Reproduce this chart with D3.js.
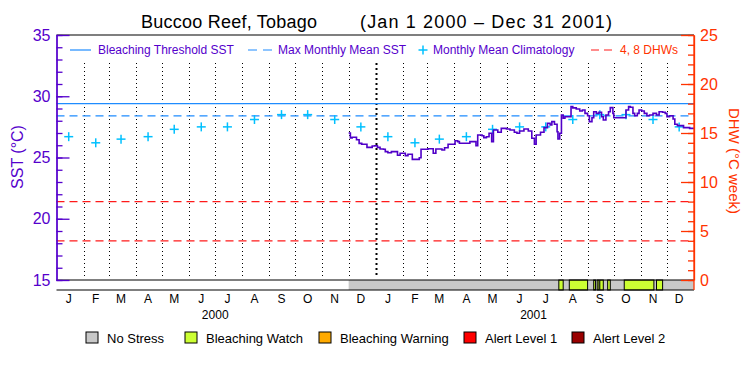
<!DOCTYPE html>
<html>
<head>
<meta charset="utf-8">
<script src="https://cdn.jsdelivr.net/npm/d3@7"></script>
<style>
  body { margin: 0; background: #fff; }
  svg { display: block; font-family: "Liberation Sans", Arial, sans-serif; }
</style>
</head>
<body>
<svg id="chart" width="750" height="375"></svg>
<script>
// ---- data ----
const periodStart = new Date(2000, 0, 1);
const periodEnd = new Date(2002, 0, 1);

const monthLetters = ["J", "F", "M", "A", "M", "J", "J", "A", "S", "O", "N", "D"];
const years = [2000, 2001];

const bleachingThreshold = 29.4; // SST, degC
const maxMonthlyMean = 28.4; // SST, degC
const dhwLevels = [4, 8]; // DHW, degC week

// monthly mean climatology (same each year), plotted mid-month
const climatology = [26.7, 26.2, 26.5, 26.7, 27.3, 27.5, 27.5, 28.1, 28.5, 28.5, 28.1, 27.5];

// twice weekly SST: days since Jan 1 2000, value degC
const sstDay = [335, 337, 339, 344, 347, 350, 356, 362, 365, 368, 371, 375, 377, 380, 384, 391, 394, 400,
  403, 408, 416, 418, 426, 432, 435, 442, 445, 449, 457, 460, 462, 474, 481, 483, 488, 490, 493, 496,
  499, 501, 506, 510, 516, 520, 525, 528, 531, 536, 541, 545, 548, 550, 555, 559, 563, 566, 568, 571,
  574, 575, 577, 579, 581, 583, 590, 592, 596, 600, 603, 606, 609, 611, 614, 616, 619, 622, 625, 627,
  630, 633, 635, 638, 639, 653, 656, 658, 661, 663, 666, 668, 671, 674, 677, 680, 684, 688, 691, 695,
  698, 700, 703, 707, 709, 712, 719, 726, 731];
const sstValue = [27.0, 26.6, 26.65, 26.45, 26.15, 26.08, 25.83, 25.94, 25.96, 25.83, 25.69, 25.67, 25.48,
  25.39, 25.48, 25.18, 25.35, 25.15, 25.27, 24.85, 24.98, 25.67, 25.72, 25.35, 25.69, 25.61, 25.8, 26.08,
  26.37, 26.3, 26.16, 26.3, 25.96, 26.84, 26.78, 26.62, 26.7, 26.98, 26.3, 27.24, 27.06, 27.38, 27.33,
  27.24, 27.06, 26.98, 27.16, 27.33, 27.16, 26.57, 26.08, 26.84, 27.06, 27.44, 27.79, 27.65, 27.93, 27.71,
  27.1, 26.51, 26.98, 28.47, 28.2, 28.33, 29.15, 29.05, 28.96, 28.8, 28.88, 28.6, 28.41, 27.93, 28.25,
  28.74, 28.6, 28.69, 28.33, 28.06, 28.47, 28.74, 29.07, 28.6, 28.25, 28.88, 29.15, 29.1, 28.6, 28.41,
  28.6, 28.88, 28.8, 28.6, 28.41, 28.47, 28.6, 28.47, 28.74, 28.69, 28.6, 28.33, 28.41, 28.14, 27.71,
  27.6, 27.44, 27.38, 27.38];

// stress level bar
const stressStart = "2000-12-01"; // no stress (grey) from here on
const watchStart = ["2001-07-30", "2001-08-11", "2001-09-08", "2001-09-12", "2001-09-15", "2001-09-24", "2001-10-13", "2001-11-19"];
const watchEnd = ["2001-08-04", "2001-09-01", "2001-09-10", "2001-09-14", "2001-09-19", "2001-09-27", "2001-11-16", "2001-11-26"];

const stressNames = ["No Stress", "Bleaching Watch", "Bleaching Warning", "Alert Level 1", "Alert Level 2"];
const stressColours = ["#c8c8c8", "#ccff33", "#ffaa00", "#ff0000", "#990000"];

// ---- layout ----
const colSST = "#5500cc",
  colDHW = "#ff3300",
  colThresh = "#1e8cff",
  colClim = "#00c0ff",
  colDHWLine = "#ff1a1a";

const plotLeft = 56.5, plotRight = 694, plotTop = 35, plotBottom = 280, barBottom = 290;

const svg = d3.select("#chart");
const parse = d3.timeParse("%Y-%m-%d");

const x = d3.scaleTime().domain([periodStart, periodEnd]).range([plotLeft, plotRight]);
const ySST = d3.scaleLinear().domain([15, 35]).range([plotBottom, plotTop]);
const yDHW = d3.scaleLinear().domain([0, 25]).range([plotBottom, plotTop]);

// title
svg.append("text").attr("x", 141).attr("y", 28)
  .attr("textLength", 176).attr("lengthAdjust", "spacing")
  .style("font-size", "18px").text("Buccoo Reef, Tobago");
svg.append("text").attr("x", 360).attr("y", 28)
  .attr("textLength", 252).attr("lengthAdjust", "spacing")
  .style("font-size", "18px").text("(Jan 1 2000 \u2013 Dec 31 2001)");

// month grid (dotted), heavier at the year boundary
const monthStarts = d3.timeMonth.range(d3.timeMonth.offset(periodStart, 1), periodEnd);
svg.append("g")
  .selectAll("line")
  .data(monthStarts)
  .join("line")
  .attr("x1", (d) => Math.round(x(d)) + 0.5)
  .attr("x2", (d) => Math.round(x(d)) + 0.5)
  .attr("y1", 63)
  .attr("y2", 278)
  .attr("stroke", "#000")
  .attr("stroke-width", (d) => (d.getMonth() === 0 ? 2 : 1))
  .attr("stroke-dasharray", (d) => (d.getMonth() === 0 ? "2,3" : "1,3"));

// reference lines
svg.append("line").attr("x1", plotLeft).attr("x2", plotRight)
  .attr("y1", ySST(bleachingThreshold)).attr("y2", ySST(bleachingThreshold))
  .attr("stroke", colThresh).attr("stroke-width", 1.2);
svg.append("line").attr("x1", plotLeft).attr("x2", plotRight)
  .attr("y1", ySST(maxMonthlyMean)).attr("y2", ySST(maxMonthlyMean))
  .attr("stroke", colThresh).attr("stroke-width", 1.2).attr("stroke-dasharray", "8,5");
svg.append("g")
  .selectAll("line")
  .data(dhwLevels)
  .join("line")
  .attr("x1", plotLeft).attr("x2", plotRight)
  .attr("y1", (d) => yDHW(d)).attr("y2", (d) => yDHW(d))
  .attr("stroke", colDHWLine).attr("stroke-width", 1.2).attr("stroke-dasharray", "8,5");

// climatology crosses
const climPoints = [];
years.forEach((yr) => climatology.forEach((v, m) => climPoints.push({ date: new Date(yr, m, 15), value: v })));
const cross = (g, cx, cy, r) => {
  g.append("line").attr("x1", cx - r).attr("x2", cx + r).attr("y1", cy).attr("y2", cy);
  g.append("line").attr("x1", cx).attr("x2", cx).attr("y1", cy - r).attr("y2", cy + r);
};
const gClim = svg.append("g").attr("stroke", colClim).attr("stroke-width", 1.5);
climPoints.forEach((p) => cross(gClim, x(p.date), ySST(p.value), 4.5));

// SST line
const sst = sstDay.map((d, i) => ({ date: d3.timeDay.offset(periodStart, d), value: sstValue[i] }));
svg.append("path")
  .datum(sst)
  .attr("fill", "none")
  .attr("stroke", "#5000c8")
  .attr("stroke-width", 1.6)
  .attr("d", d3.line().curve(d3.curveStepAfter).x((d) => x(d.date)).y((d) => ySST(d.value)));

// stress bar
svg.append("rect").attr("x", plotLeft).attr("y", plotBottom).attr("width", plotRight - plotLeft).attr("height", barBottom - plotBottom)
  .attr("fill", "#fff");
svg.append("rect")
  .attr("x", x(parse(stressStart))).attr("y", plotBottom)
  .attr("width", plotRight - x(parse(stressStart))).attr("height", barBottom - plotBottom)
  .attr("fill", stressColours[0]);
svg.append("g")
  .selectAll("rect")
  .data(watchStart)
  .join("rect")
  .attr("x", (d) => x(parse(d)))
  .attr("width", (d, i) => x(parse(watchEnd[i])) - x(parse(d)))
  .attr("y", plotBottom)
  .attr("height", barBottom - plotBottom)
  .attr("fill", stressColours[1])
  .attr("stroke", "#000")
  .attr("stroke-width", 1);

// box lines
svg.append("g").attr("stroke", "#000").attr("stroke-width", 1.2)
  .call((g) => g.append("line").attr("x1", plotLeft).attr("x2", plotRight).attr("y1", plotTop).attr("y2", plotTop))
  .call((g) => g.append("line").attr("x1", plotLeft).attr("x2", plotRight).attr("y1", plotBottom).attr("y2", plotBottom))
  .call((g) => g.append("line").attr("x1", plotLeft).attr("x2", plotRight).attr("y1", barBottom).attr("y2", barBottom));

// left axis (SST)
const gL = svg.append("g").attr("transform", `translate(${plotLeft},0)`);
gL.call(d3.axisLeft(ySST).tickValues(d3.range(15, 36)).tickSize(-6).tickSizeOuter(0).tickFormat(""));
gL.call((g) => g.append("g").call(d3.axisLeft(ySST).tickValues(d3.range(15, 36, 5)).tickSize(-13).tickSizeOuter(0).tickPadding(6)));
gL.selectAll("path, line").attr("stroke", colSST).attr("stroke-width", 1.3);
gL.selectAll("text").attr("fill", colSST).style("font-size", "16px").style("font-family", "Liberation Sans, Arial, sans-serif");

svg.append("text")
  .attr("transform", `translate(23,157) rotate(-90)`)
  .attr("text-anchor", "middle")
  .attr("fill", colSST)
  .style("font-size", "16px")
  .text("SST (\u00b0C)");

// right axis (DHW)
const gR = svg.append("g").attr("transform", `translate(${plotRight},0)`);
gR.call(d3.axisRight(yDHW).tickValues(d3.range(0, 26)).tickSize(-6).tickSizeOuter(0).tickFormat(""));
gR.call((g) => g.append("g").call(d3.axisRight(yDHW).tickValues(d3.range(0, 26, 5)).tickSize(-13).tickSizeOuter(0).tickPadding(6)));
gR.select(".domain").attr("d", `M0,${plotTop}V${barBottom}`);
gR.selectAll("path, line").attr("stroke", colDHW).attr("stroke-width", 1.3);
gR.selectAll("text").attr("fill", colDHW).style("font-size", "16px").style("font-family", "Liberation Sans, Arial, sans-serif");

svg.append("text")
  .attr("transform", `translate(729,161) rotate(90)`)
  .attr("text-anchor", "middle")
  .attr("fill", colDHW)
  .style("font-size", "15px")
  .text("DHW (\u00b0C week)");

// month and year labels
const monthMids = d3.timeMonth.range(periodStart, periodEnd).map((d) => new Date(d.getFullYear(), d.getMonth(), 15));
svg.append("g")
  .selectAll("text")
  .data(monthMids)
  .join("text")
  .attr("x", (d) => x(d))
  .attr("y", 303)
  .attr("text-anchor", "middle")
  .style("font-size", "12px")
  .text((d) => monthLetters[d.getMonth()]);
svg.append("g")
  .selectAll("text")
  .data(years)
  .join("text")
  .attr("x", (d) => x(new Date(d, 6, 1)))
  .attr("y", 319)
  .attr("text-anchor", "middle")
  .style("font-size", "12px")
  .text((d) => d);

// top legend
const legY = 50;
const gLeg = svg.append("g").style("font-size", "12px");
gLeg.append("line").attr("x1", 70).attr("x2", 91).attr("y1", legY).attr("y2", legY)
  .attr("stroke", colThresh).attr("stroke-width", 1.2);
gLeg.append("text").attr("x", 98).attr("y", legY + 4).attr("fill", colSST).text("Bleaching Threshold SST");
gLeg.append("line").attr("x1", 248).attr("x2", 272).attr("y1", legY).attr("y2", legY)
  .attr("stroke", colThresh).attr("stroke-width", 1.2).attr("stroke-dasharray", "9,6");
gLeg.append("text").attr("x", 278).attr("y", legY + 4).attr("fill", colSST).text("Max Monthly Mean SST");
const gLegCross = gLeg.append("g").attr("stroke", colClim).attr("stroke-width", 1.5);
cross(gLegCross, 423, legY, 4.5);
gLeg.append("text").attr("x", 433).attr("y", legY + 4).attr("fill", colSST).text("Monthly Mean Climatology");
gLeg.append("line").attr("x1", 591).attr("x2", 612).attr("y1", legY).attr("y2", legY)
  .attr("stroke", colDHWLine).attr("stroke-width", 1.2).attr("stroke-dasharray", "8,5");
gLeg.append("text").attr("x", 620).attr("y", legY + 4).attr("fill", colDHW).text("4, 8 DHWs");

// stress legend
const stressBoxX = [86, 185, 319, 464, 572];
const gStress = svg.append("g").selectAll("g")
  .data(stressNames)
  .join("g")
  .attr("transform", (d, i) => `translate(${stressBoxX[i]},332)`);
gStress.append("rect").attr("width", 12).attr("height", 11)
  .attr("fill", (d, i) => stressColours[i]).attr("stroke", "#000").attr("stroke-width", 1);
gStress.append("text").attr("x", 21).attr("y", 10.5).style("font-size", "13px").text((d) => d);
</script>
</body>
</html>
